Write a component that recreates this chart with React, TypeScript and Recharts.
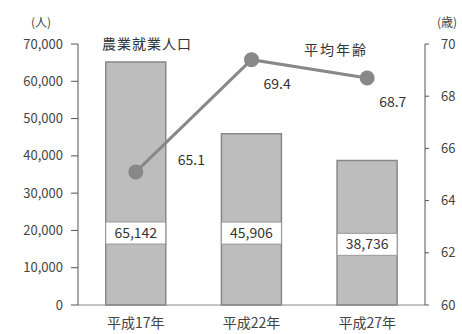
import { ComposedChart, Bar, Line, XAxis, YAxis, LabelList } from 'recharts'

const years = ['平成17年', '平成22年', '平成27年']
const workers = [65142, 45906, 38736]
const avgAge = [65.1, 69.4, 68.7]
const leftTicks = [0, 10000, 20000, 30000, 40000, 50000, 60000, 70000]
const rightTicks = [60, 62, 64, 66, 68, 70]

const data = years.map((year, i) => ({ year, workers: workers[i], age: avgAge[i] }))

const font = '"Noto Sans CJK JP", "Noto Sans", sans-serif'

// white box holding the value, set into the lower part of the bar
const BarValue = (props: any) => {
  const { x, y, width, height, value } = props
  const cy = y + height - Math.min(72, height * 0.42)
  return (
    <g>
      <rect x={x} y={cy - 11} width={width} height={22} fill="#fff" stroke="#999" strokeWidth={1} />
      <text x={x + width / 2} y={cy + 5} textAnchor="middle" fontSize={14} fill="#333" fontFamily={font}>
        {Number(value).toLocaleString('en-US')}
      </text>
    </g>
  )
}

// first label sits beside the bar, the others just under their dot
const AgeValue = (props: any) => {
  const { x, y, value, index } = props
  const dx = index === 0 ? 42 : 12
  const dy = index === 0 ? -7 : 29
  return (
    <text x={x + dx} y={y + dy} fontSize={14} fill="#333" fontFamily={font}>
      {Number(value).toFixed(1)}
    </text>
  )
}

export default function App() {
  return (
    <div style={{ position: 'absolute', left: 0, top: 0, width: 462, height: 334, background: '#fff', fontFamily: font }}>
      <ComposedChart
        width={462}
        height={334}
        data={data}
        margin={{ top: 44, right: 0, bottom: 0, left: 0 }}
        barCategoryGap="24%"
      >
        <XAxis
          dataKey="year"
          height={29}
          tickLine={false}
          stroke="#888"
          tick={{ fontSize: 14, fill: '#444', fontFamily: font }}
          tickMargin={7}
        />
        <YAxis
          yAxisId="left"
          width={78}
          domain={[0, 70000]}
          ticks={leftTicks}
          tickFormatter={(v: number) => v.toLocaleString('en-US')}
          stroke="#555"
          tickSize={7}
          tickMargin={8}
          tick={{ fontSize: 13, fill: '#444', fontFamily: font }}
        />
        <YAxis
          yAxisId="right"
          orientation="right"
          width={37}
          domain={[60, 70]}
          ticks={rightTicks}
          stroke="#555"
          tickSize={4}
          tickMargin={12}
          tick={{ fontSize: 13, fill: '#444', fontFamily: font }}
        />
        <Bar yAxisId="left" dataKey="workers" fill="#bdbdbd" stroke="#888" strokeWidth={1.5} isAnimationActive={false}>
          <LabelList dataKey="workers" content={BarValue} />
        </Bar>
        <Line
          yAxisId="right"
          dataKey="age"
          stroke="#888"
          strokeWidth={3}
          dot={{ r: 6, fill: '#888', stroke: '#888' }}
          isAnimationActive={false}
        >
          <LabelList dataKey="age" content={AgeValue} />
        </Line>
      </ComposedChart>
      <div style={{ position: 'absolute', left: 31, top: 13, fontSize: 12, color: '#444' }}>(人)</div>
      <div style={{ position: 'absolute', left: 437, top: 13, fontSize: 12, color: '#444' }}>(歳)</div>
      <div style={{ position: 'absolute', left: 102, top: 33, fontSize: 14, letterSpacing: 1, color: '#333' }}>農業就業人口</div>
      <div style={{ position: 'absolute', left: 304, top: 39, fontSize: 14, letterSpacing: 2, color: '#333' }}>平均年齢</div>
    </div>
  )
}
